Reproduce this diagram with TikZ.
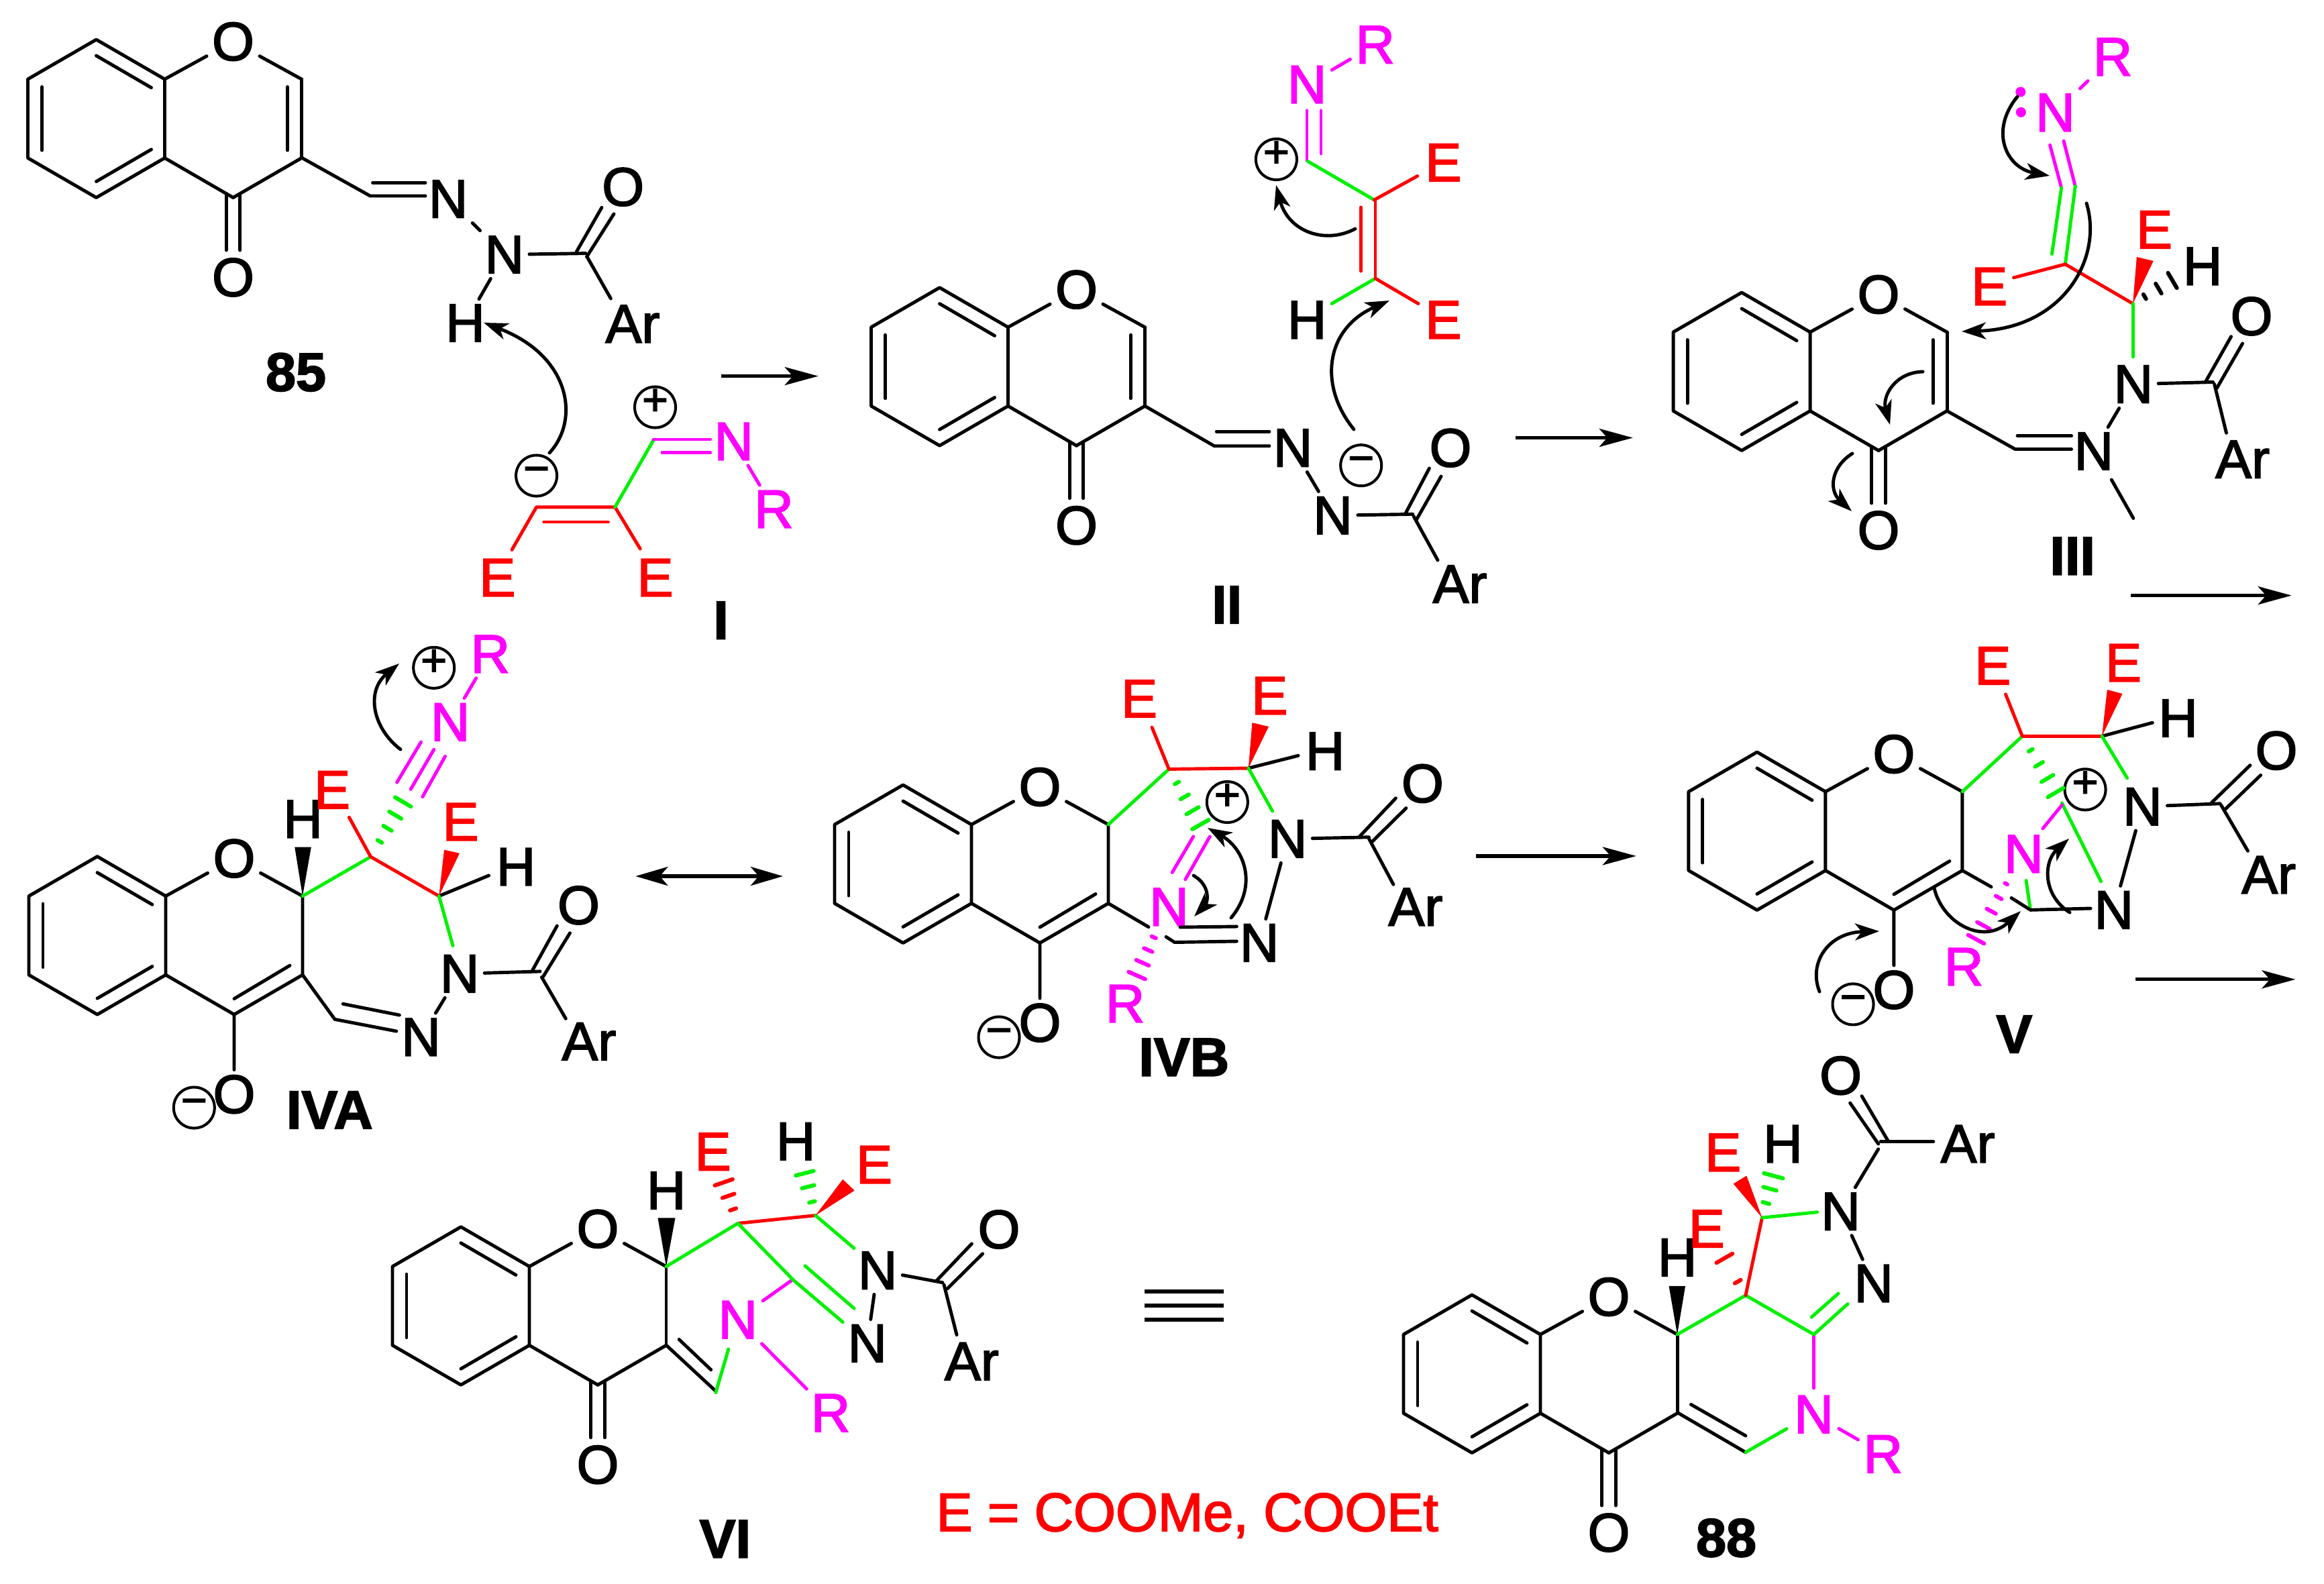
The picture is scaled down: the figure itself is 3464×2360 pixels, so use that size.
\documentclass[tikz,border=0pt]{standalone}
\usepackage{fontspec}
\setmainfont{Liberation Sans}[FakeBold=2.2]
\usetikzlibrary{calc,arrows.meta}
\definecolor{chemred}{RGB}{255,0,0}
\definecolor{chemgreen}{RGB}{0,240,0}
\definecolor{chemmag}{RGB}{255,0,255}
\tikzset{
	bond/.style={line width=1.4pt,line cap=round,line join=round},
	rbond/.style={bond,chemred},
	gbond/.style={bond,chemgreen},
	mbond/.style={bond,chemmag},
	atom/.style={font=\fontsize{23}{27}\selectfont,inner sep=.08cm,outer sep=0pt},
	ratom/.style={atom,text=chemred},
	matom/.style={atom,text=chemmag},
	cpd/.style={font=\fontsize{23}{27}\bfseries\selectfont,inner sep=0pt},
	chg/.style={draw,circle,line width=1.15pt,minimum size=.61cm,inner sep=0pt,font=\fontsize{19}{22}\selectfont,text height=.66em,text depth=0pt},
	curly/.style={line width=1.4pt,line cap=round,-{Stealth[length=.36cm,width=.25cm,inset=.1cm]}},
	rxn/.style={line width=1.5pt,-{Stealth[length=.5cm,width=.27cm,inset=.12cm]}},
	reso/.style={line width=1.5pt,{Stealth[length=.48cm,width=.28cm,inset=.12cm]}-{Stealth[length=.48cm,width=.28cm,inset=.12cm]}}
}
% benzo ring, ring oxygen and the bonds that every structure has
\def\chromring(#1,#2)#3{
	\node[atom] (O#3) at (#1+102,#2-56) {O};
	\draw[bond] (#1,#2) -- (#1-102,#2-59) -- (#1-204,#2) -- (#1-204,#2+117.5) -- (#1-102,#2+176.5) -- (#1,#2+117.5) -- cycle;
	\draw[bond] (#1-102,#2-35) -- (#1-20,#2+12.7);
	\draw[bond] (#1-183,#2+11.5) -- (#1-183,#2+106);
	\draw[bond] (#1-102,#2+152.5) -- (#1-20,#2+104.8);
	\draw[bond] (#1,#2) -- (O#3);
	\draw[bond] (O#3) -- (#1+204,#2);
	\draw[bond] (#1,#2+117.5) -- (#1+102,#2+176.5);
}
% C3-C4 with the exocyclic C=O
\def\pyrone(#1,#2)#3{
	\node[atom] (X#3) at (#1+102,#2+295.5) {O};
	\draw[bond] (#1+204,#2+117.5) -- (#1+102,#2+176.5);
	\draw[bond] (#1+91.6,#2+171) -- (#1+91.6,#2+255);
	\draw[bond] (#1+112.4,#2+171) -- (#1+112.4,#2+255);
}
% C2=C3
\def\enone(#1,#2){
	\draw[bond] (#1+204,#2) -- (#1+204,#2+117.5);
	\draw[bond] (#1+183,#2+11.5) -- (#1+183,#2+106);
}
% C3=C4 with the oxide
\def\enolate(#1,#2)#3{
	\node[atom] (X#3) at (#1+102,#2+295.5) {O};
	\draw[bond] (#1+204,#2) -- (#1+204,#2+117.5) -- (#1+102,#2+176.5) -- (X#3);
	\draw[bond] (#1+185,#2+103.5) -- (#1+102,#2+153);
}
\def\hashbond[#1](#2,#3)(#4,#5)(#6:#7){
	\foreach \dd in {#7}{
		\draw[#1,line width=1.7pt] ($(#2,#3)!\dd!(#4,#5)!\dd*#6cm!90:(#2,#3)$) -- ($(#2,#3)!\dd!(#4,#5)!\dd*#6cm!-90:(#2,#3)$);
	}
}

\begin{document}
\begin{tikzpicture}[x=.01cm,y=-.01cm]
	\useasboundingbox (0,0) rectangle (3464,2360);
	%%%%% 85 %%%%%
	\chromring(245.5,118){a}
	\pyrone(245.5,118){a}
	\enone(245.5,118)
	\node[atom] (Na) at (668,296.6) {N};
	\node[atom] (Nb) at (751.8,379.5) {N};
	\node[atom] (Ha) at (693.5,481.5) {H};
	\node[atom] (Oc) at (928.7,278.7) {O};
	\node[atom] (Ara) at (943,482.8) {Ar};
	\node[cpd] (la) at (441,554.8) {85};
	\draw[bond] (449,234.7) -- (551.7,292) -- (634,292);
	\draw[bond] (555.6,272.3) -- (634,272.3);
	\draw[bond] (Na) -- (Nb);
	\draw[bond] (Nb) -- (Ha);
	\draw[bond] (Nb) -- (873,377.6);
	\draw[bond] (859.4,375) -- (896.9,309.3);
	\draw[bond] (874.5,382.7) -- (915,318.9);
	\draw[bond] (875,382.7) -- (910.4,445);
	
	%%%%% I %%%%%
	\node[chg] (mA) at (799.6,709) {−};
	\node[chg] (pA) at (976.5,607) {+};
	\node[ratom] (Ea) at (741.4,861) {E};
	\node[ratom] (Eb) at (976.5,861) {E};
	\node[matom] (Nc) at (1093.7,658) {N};
	\node[matom] (Ra) at (1153.5,759) {R};
	\node[cpd] (lb) at (1074.6,924.7) {I};
	\draw[rbond] (763,819.5) -- (799.6,755.8) -- (916.7,755.8) -- (954.2,818);
	\draw[rbond] (810.7,778) -- (906.4,778);
	\draw[gbond] (916.7,755.8) -- (974,656);
	\draw[mbond] (974,655) -- (1058.7,655);
	\draw[mbond] (987,674.7) -- (1058.7,674.7);
	\draw[mbond] (Nc) -- (Ra);
	\draw[curly] (819,675) .. controls (865,625) and (850,530) .. (721,481);
	\draw[rxn] (1074.6,560.6) -- (1219.7,560.6);
	
	%%%%% II %%%%%
	\chromring(1502.5,487.7){b}
	\pyrone(1502.5,487.7){b}
	\enone(1502.5,487.7)
	\node[atom] (Nd) at (1927,667.7) {N};
	\node[atom] (Ne) at (1986.6,768.3) {N};
	\node[atom] (Od) at (2162,667.7) {O};
	\node[atom] (Arb) at (2176,870.7) {Ar};
	\node[chg] (mB) at (2028.7,693.7) {−};
	\node[cpd] (lc) at (1828.7,901.5) {II};
	\draw[bond] (1706.5,605.2) -- (1809.8,664.7) -- (1891.9,664.7);
	\draw[bond] (1813.3,643.4) -- (1891.9,643.4);
	\draw[bond] (Nd) -- (Ne);
	\draw[bond] (Ne) -- (2105.8,766.4);
	\draw[bond] (2095.3,764.6) -- (2130.4,698);
	\draw[bond] (2111.4,774.3) -- (2148,710);
	\draw[bond] (2107,769.4) -- (2143,835);
	\node[matom] (Nf) at (1948,126) {N};
	\node[matom] (Rb) at (2049.7,66.6) {R};
	\node[ratom] (Ec) at (2151.4,242.4) {E};
	\node[ratom] (Ed) at (2151.4,476.8) {E};
	\node[atom] (Hb) at (1948,476.8) {H};
	\node[chg] (pB) at (1902.4,237.5) {+};
	\draw[mbond] (Nf) -- (Rb);
	\draw[mbond] (1948,164.8) -- (1948,239.3);
	\draw[mbond] (1969,164.8) -- (1969,229);
	\draw[gbond] (1949.4,240.5) -- (2048.3,298);
	\draw[rbond] (2048.3,298) -- (2112.8,262.3);
	\draw[rbond] (2050,298) -- (2050,415);
	\draw[rbond] (2028.7,309) -- (2028.7,404);
	\draw[gbond] (2050,415) -- (1985,452.6);
	\draw[rbond] (2050,415) -- (2114,452.6);
	\draw[curly] (2020,341) .. controls (1975,365) and (1920,345) .. (1902,276);
	\draw[curly] (2018,640) .. controls (1965,575) and (1975,490) .. (2071,448);
	\draw[rxn] (2258.8,652.5) -- (2433.8,652.5);
	
	%%%%% III %%%%%
	\chromring(2698,495){c}
	\pyrone(2698,495){c}
	\enone(2698,495)
	\node[atom] (Ng) at (3120.9,672.5) {N};
	\node[atom] (Nh) at (3179.8,572.6) {N};
	\node[atom] (Oe) at (3356,471.4) {O};
	\node[atom] (Arc) at (3342.5,684.7) {Ar};
	\node[cpd] (ld) at (3089,828.8) {III};
	\draw[bond] (2902,612.5) -- (3003.6,669.5) -- (3087.5,669.5);
	\draw[bond] (3007,649.5) -- (3087.5,649.5);
	\draw[bond] (Ng) -- (Nh);
	\draw[bond] (Nh) -- (3298.5,569.5);
	\draw[bond] (3287.8,568.3) -- (3325.5,501.7);
	\draw[bond] (3304.2,578.6) -- (3342.5,512);
	\draw[bond] (3300.6,572.6) -- (3318.4,645.3);
	\draw[bond] (3147.2,715) -- (3179.8,772.5);
	\node[matom] (Ni) at (3063.3,167.8) {N};
	\node[matom] (Rc) at (3149,84.8) {R};
	\fill[chemmag] (3011.7,137) circle (7.5);
	\fill[chemmag] (3012.3,167.3) circle (7.5);
	\node[ratom] (Ee) at (2965.3,427) {E};
	\node[ratom] (Ef) at (3211,342.3) {E};
	\node[atom] (Hc) at (3283,396.9) {H};
	\draw[mbond] (Ni) -- (Rc);
	\draw[mbond] (3055.5,216.3) -- (3072.6,280);
	\draw[mbond] (3076,210.2) -- (3093.2,277.5);
	\draw[gbond] (3072.6,280) -- (3058.4,378.7);
	\draw[gbond] (3093.2,277.5) -- (3078.3,393.8);
	\draw[rbond] (3001.5,413.8) -- (3078.3,393.8) -- (3179.1,452.6);
	\fill[chemred] (3179.1,452.6) -- (3184.8,383) -- (3209.7,389) -- cycle;
	\hashbond[bond](3179.1,452.6)(3238,418)(.13:.3,.65,1)
	\draw[gbond] (3179.1,452.6) -- (3179.1,532);
	\draw[curly] (3007,144) .. controls (2965,195) and (2990,250) .. (3055,262);
	\draw[curly] (3110,303) .. controls (3135,385) and (3075,490) .. (2924,494);
	\draw[curly] (2866,554) .. controls (2825,555) and (2805,590) .. (2817,633);
	\draw[curly] (2761,676) .. controls (2730,695) and (2725,730) .. (2760,762);
	\draw[rxn] (3176.3,887.6) -- (3415.7,887.6);
	
	%%%%% IVA %%%%%
	\chromring(247,1335.6){d}
	\enolate(247,1335.6){d}
	\node[chg] (mC) at (289.3,1651) {−};
	\node[cpd] (le) at (491.3,1654.5) {IVA};
	\node[atom] (Nj) at (627.5,1545.8) {N};
	\node[atom] (Nk) at (685,1451.4) {N};
	\node[atom] (Of) at (862.5,1349.4) {O};
	\node[atom] (Ard) at (877.8,1552.4) {Ar};
	\draw[bond] (451,1453) -- (499,1519.3) -- (590.8,1537);
	\draw[bond] (511.2,1496.3) -- (595.4,1513);
	\draw[bond] (Nj) -- (Nk);
	\draw[bond] (Nk) -- (805,1447.9);
	\draw[bond] (793.6,1446.3) -- (830.3,1380);
	\draw[bond] (809.7,1455.5) -- (849.5,1390.7);
	\draw[bond] (807.4,1456.5) -- (843.3,1518.3);
	\node[atom] (Hd) at (451.5,1220.8) {H};
	\node[ratom] (Eg) at (495,1177.4) {E};
	\node[ratom] (Eh) at (686.5,1225) {E};
	\node[atom] (He) at (769,1292) {H};
	\node[matom] (Nl) at (671,1076.4) {N};
	\node[matom] (Rd) at (730.8,974.9) {R};
	\node[chg] (pC) at (646.7,995.3) {+};
	\fill (451,1335.6) -- (439.3,1262.7) -- (463.8,1262.7) -- cycle;
	\draw[gbond] (451,1335.6) -- (552.5,1277);
	\draw[rbond] (520.4,1218.3) -- (552.5,1277) -- (654.3,1335.6);
	\fill[chemred] (654.3,1335.6) -- (662,1266.7) -- (685,1271.8) -- cycle;
	\draw[bond] (654.3,1335.6) -- (728.5,1305);
	\draw[gbond] (654.3,1335.6) -- (675,1409.6);
	\hashbond[gbond](552.5,1277)(600.7,1195.3)(.137:.28,.52,.76,1)
	\draw[mbond] (591.6,1166.2) -- (627.5,1106);
	\draw[mbond] (612.2,1176.4) -- (646.7,1117.2);
	\draw[mbond] (629.8,1187.7) -- (663.5,1127.4);
	\draw[mbond] (Nl) -- (Rd);
	\draw[curly] (597,1117) .. controls (555,1085) and (545,1030) .. (595,989);
	\draw[reso] (947.4,1306) -- (1167,1306);
	
	%%%%% IVB %%%%%
	\chromring(1448,1229){e}
	\enolate(1448,1229){e}
	\node[chg] (mD) at (1489,1546) {−};
	\node[cpd] (lf) at (1764.7,1575.9) {IVB};
	\node[atom] (Nm) at (1919,1250.4) {N};
	\node[atom] (Nn) at (1877,1405.4) {N};
	\node[atom] (Og) at (2120.4,1167.9) {O};
	\node[atom] (Are) at (2109.9,1351.8) {Ar};
	\node[ratom] (Ei) at (1698,1041.5) {E};
	\node[ratom] (Ej) at (1892.4,1037) {E};
	\node[atom] (Hf) at (1975,1119.6) {H};
	\node[chg] (pD) at (1829.3,1195.5) {+};
	\node[matom] (No) at (1742.3,1351.8) {N};
	\node[matom] (Re) at (1677,1496) {R};
	\draw[bond] (Nm) -- (Nn);
	\draw[bond] (Nm) -- (2040.4,1247.8);
	\draw[bond] (2026.4,1246.9) -- (2080.4,1189.7);
	\draw[bond] (2043.9,1255.8) -- (2095.8,1204.5);
	\draw[bond] (2040.4,1250) -- (2076.9,1318.3);
	\draw[gbond] (1652,1229) -- (1742.3,1146.4);
	\draw[rbond] (1717,1084) -- (1742.3,1146.4) -- (1860.8,1145);
	\fill[chemred] (1860.8,1145) -- (1866.4,1077.2) -- (1891,1083) -- cycle;
	\draw[bond] (1860.8,1145) -- (1935,1126.3);
	\draw[gbond] (1860.8,1145) -- (1896.6,1209);
	\hashbond[gbond](1742.3,1146.4)(1789.3,1229)(.14:.25,.5,.75,1)
	\draw[mbond] (1747.2,1300.4) -- (1778.7,1246.9);
	\draw[mbond] (1766.8,1310.7) -- (1803.3,1246.9);
	\hashbond[mbond](1728,1378)(1694.6,1454)(.135:.25,.5,.75,1)
	\draw[bond] (1652,1346.5) -- (1712,1381.7);
	\draw[bond] (1738,1396.4) -- (1750.7,1404.5) -- (1843.3,1403);
	\draw[bond] (1759,1382) -- (1843.3,1381);
	\draw[curly] (1835,1368) .. controls (1875,1320) and (1855,1265) .. (1800,1234);
	\draw[curly] (1779,1305) .. controls (1805,1320) and (1800,1345) .. (1780,1366);
	\draw[rxn] (2199.6,1275.9) -- (2438.8,1275.9);
	
	%%%%% V %%%%%
	\chromring(2720.9,1180){f}
	\enolate(2720.9,1180){f}
	\node[chg] (mE) at (2762,1496.9) {−};
	\node[cpd] (lg) at (3002.2,1541.5) {V};
	\node[atom] (Np) at (3193.3,1202.2) {N};
	\node[atom] (Nq) at (3150.7,1356.3) {N};
	\node[atom] (Oh) at (3393,1118.8) {O};
	\node[atom] (Arf) at (3381.6,1304) {Ar};
	\node[ratom] (Ek) at (2970.3,992.4) {E};
	\node[ratom] (El) at (3165,988) {E};
	\node[atom] (Hg) at (3246.6,1070.5) {H};
	\node[chg] (pE) at (3108,1176.8) {+};
	\node[matom] (Nr) at (3016.4,1272.8) {N};
	\node[matom] (Rf) at (2927,1441) {R};
	\draw[bond] (Np) -- (Nq);
	\draw[bond] (Np) -- (3309,1197.8);
	\draw[bond] (3296.4,1196.4) -- (3353.9,1140.6);
	\draw[bond] (3316.2,1206.7) -- (3369.6,1155.4);
	\draw[bond] (3310.6,1200) -- (3350.4,1268.3);
	\draw[gbond] (2924.9,1180) -- (3014.3,1097.3);
	\draw[rbond] (2989.4,1034.8) -- (3014.3,1097.3) -- (3133,1097.3);
	\fill[chemred] (3133,1097.3) -- (3140.8,1028) -- (3163.5,1034) -- cycle;
	\draw[bond] (3133,1097.3) -- (3208.3,1077.2);
	\draw[gbond] (3133,1097.3) -- (3170.6,1159.8);
	\hashbond[gbond](3014.3,1097.3)(3064,1181.3)(.135:.25,.5,.75,1)
	\draw[gbond] (3073.3,1196.9) -- (3131.5,1313.8);
	\draw[mbond] (3073.3,1200) -- (3044.9,1234.8);
	\draw[gbond] (3020,1312.5) -- (3026.4,1356.3);
	\draw[bond] (3026.4,1356.3) -- (3116,1354);
	\draw[bond] (2998,1338.4) -- (3025,1355.4);
	\draw[bond] (2924.9,1297.5) -- (2968,1321.9);
	\hashbond[mbond](2998,1302.7)(2945.4,1400)(.135:.15,.36,.57,.79,1)
	\draw[curly] (3085,1360) .. controls (3045,1335) and (3045,1285) .. (3084,1250);
	\draw[curly] (2883,1324) .. controls (2895,1375) and (2955,1410) .. (3012,1358);
	\draw[curly] (2712,1478) .. controls (2695,1435) and (2725,1390) .. (2801,1388);
	\draw[rxn] (3182.7,1459.8) -- (3421.4,1459.8);
	
	%%%%% VI %%%%%
	\chromring(789,1887.7){g}
	\pyrone(789,1887.7){g}
	\node[cpd] (lh) at (1080.8,2293.9) {VI};
	\node[atom] (Hh) at (993,1774.5) {H};
	\node[ratom] (Em) at (1062.6,1716.6) {E};
	\node[atom] (Hi) at (1186,1701.2) {H};
	\node[ratom] (En) at (1303,1736) {E};
	\node[matom] (Ns) at (1099.8,1967) {N};
	\node[matom] (Rg) at (1238,2106) {R};
	\node[atom] (Nt) at (1308,1893.6) {N};
	\node[atom] (Nu) at (1292.7,2002.3) {N};
	\node[atom] (Oi) at (1489,1832.5) {O};
	\node[atom] (Arg) at (1448.4,2029) {Ar};
	\draw[bond] (993,1887.7) -- (993,2005);
	\draw[bond] (993,2005) -- (1066.8,2073.4);
	\draw[bond] (1012.1,1996.4) -- (1059.8,2041.7);
	\draw[gbond] (1066.8,2075.6) -- (1085.8,2010.9);
	\draw[mbond] (Ns) -- (Rg);
	\draw[mbond] (1180.5,1908) -- (1137,1938.9);
	\fill (993,1887.7) -- (980.5,1815.3) -- (1006.5,1815.3) -- cycle;
	\draw[gbond] (993,1887.7) -- (1099.8,1823.4);
	\draw[rbond] (1099.8,1823.4) -- (1215.5,1811.6);
	\draw[gbond] (1099.8,1823.4) -- (1182.6,1908) -- (1256.2,1970.6);
	\draw[gbond] (1200,1886.8) -- (1273,1950.2);
	\draw[gbond] (1215.5,1811.6) -- (1273,1860.5);
	\hashbond[rbond](1099.8,1823.4)(1078.7,1762.3)(.14:.34,.67,1)
	\hashbond[gbond](1215.5,1811.6)(1199.4,1748.7)(.137:.32,.68,1)
	\fill[chemred] (1215.5,1811.6) -- (1256.2,1757.8) -- (1273.7,1774.5) -- cycle;
	\draw[bond] (Nt) -- (Nu);
	\draw[bond] (Nt) -- (1405,1911.7);
	\draw[bond] (1395.8,1909) -- (1448.4,1853.8);
	\draw[bond] (1412,1920.8) -- (1464.6,1868.7);
	\draw[bond] (1407,1914.9) -- (1426,1989.6);
	
	%%%%% equals %%%%%
	\draw[line width=1.7pt] (1706,1925) -- (1824,1925);
	\draw[line width=1.7pt] (1706,1946) -- (1824,1946);
	\draw[line width=1.7pt] (1706,1966.7) -- (1824,1966.7);
	\node[ratom] (def) at (1769.7,2259) {E = COOMe, COOEt};
	
	%%%%% 88 %%%%%
	\chromring(2296,1989){h}
	\pyrone(2296,1989){h}
	\node[cpd] (li) at (2573,2292.3) {88};
	\node[atom] (Hj) at (2500,1874.4) {H};
	\node[ratom] (Eo) at (2543.7,1831.5) {E};
	\node[ratom] (Ep) at (2568.2,1717.9) {E};
	\node[atom] (Hk) at (2657.3,1705) {H};
	\node[matom] (Nv) at (2703.6,2108) {N};
	\node[matom] (Rh) at (2806.7,2167.3) {R};
	\node[atom] (Nw) at (2792.7,1913) {N};
	\node[atom] (Nx) at (2743.6,1805.7) {N};
	\node[atom] (Oj) at (2743.6,1603.2) {O};
	\node[atom] (Arh) at (2933,1705) {Ar};
	\draw[bond] (2500,1989) -- (2500,2105.3);
	\draw[bond] (2500,2105.3) -- (2601.9,2164.7);
	\draw[bond] (2520.5,2093.4) -- (2601.9,2140);
	\draw[gbond] (2601.9,2164.7) -- (2663,2129.6);
	\draw[mbond] (Nv) -- (Rh);
	\draw[mbond] (2703.6,1989) -- (2703.6,2069);
	\fill (2500,1989) -- (2487.5,1916.8) -- (2512,1916.8) -- cycle;
	\draw[gbond] (2500,1989) -- (2601.9,1930.7) -- (2703.6,1989) -- (2754,1943.6);
	\draw[gbond] (2700,1963.3) -- (2740,1928);
	\draw[rbond] (2601.9,1930.7) -- (2626.4,1815);
	\draw[gbond] (2626.4,1815) -- (2708.5,1806.7);
	\fill[chemred] (2626.4,1815) -- (2583.6,1764.4) -- (2603.3,1752.5) -- cycle;
	\hashbond[gbond](2626.4,1815)(2643.3,1752.5)(.147:.35,.69,1)
	\hashbond[rbond](2601.9,1930.7)(2570.3,1875.4)(.137:.37,1)
	\draw[bond] (Nw) -- (Nx);
	\draw[bond] (Nx) -- (2799.7,1712.7);
	\draw[bond] (2803.2,1701.4) -- (2881.8,1701.4);
	\draw[bond] (2799.7,1705) -- (2757.6,1644);
	\draw[bond] (2813.7,1699.8) -- (2775,1633.7);
\end{tikzpicture}
\end{document}
